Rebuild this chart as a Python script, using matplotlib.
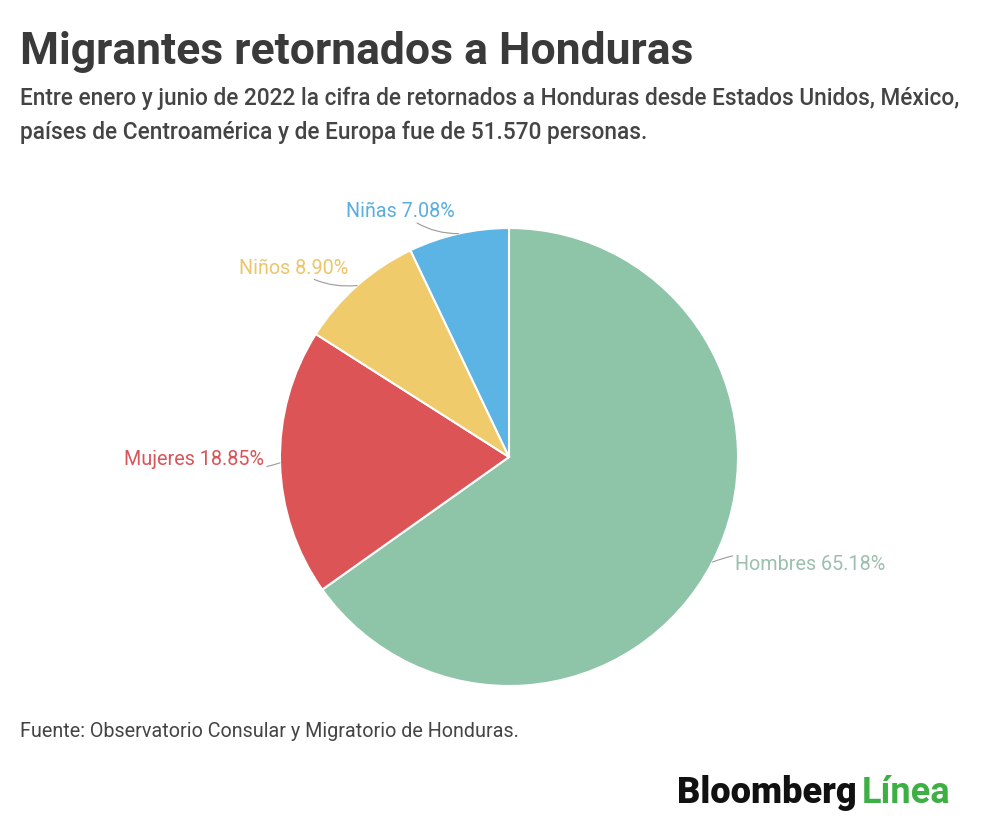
import numpy as np
import matplotlib.pyplot as plt

# Data
categorias = ["Hombres", "Mujeres", "Niños", "Niñas"]
porcentajes = [65.18, 18.85, 8.90, 7.08]
colores = ["#8ec4a8", "#dd5456", "#efcb6b", "#5cb4e4"]
colores_texto = ["#9cbfae", "#d9545a", "#ebc66a", "#5aaede"]

plt.rcParams['font.family'] = ['Roboto', 'DejaVu Sans']

fig = plt.figure(figsize=(10, 8.37), dpi=100)
fig.patch.set_facecolor("white")

# Title / subtitle
fig.text(0.02, 0.923, "Migrantes retornados a Honduras", fontsize=32, fontweight="bold",
         color="#3a3a3a", ha="left", va="baseline")
fig.text(0.02, 0.875, "Entre enero y junio de 2022 la cifra de retornados a Honduras desde Estados Unidos, México,",
         fontsize=16.3, fontweight="medium", color="#444444", ha="left", va="baseline")
fig.text(0.02, 0.834, "países de Centroamérica y de Europa fue de 51.570 personas.",
         fontsize=16.3, fontweight="medium", color="#444444", ha="left", va="baseline")

# Pie
ax = fig.add_axes([0.28, 0.1792, 0.458, 0.5472])
wedges, _ = ax.pie(porcentajes, colors=colores, startangle=90, counterclock=False,
                   radius=1, wedgeprops=dict(edgecolor="white", linewidth=1.5))
ax.set_xlim(-1, 1)
ax.set_ylim(-1, 1)
ax.set_aspect("equal")
ax.axis("off")

# Labels with leader lines
offsets = {"Hombres": (0.10, -0.005), "Mujeres": (-0.07, 0.02),
           "Niños": (-0.04, 0.08), "Niñas": (-0.015, 0.10)}
for w, cat, pct, tc in zip(wedges, categorias, porcentajes, colores_texto):
    ang = np.deg2rad((w.theta1 + w.theta2) / 2)
    x, y = np.cos(ang), np.sin(ang)
    dx, dy = offsets[cat]
    ha = "left" if x > 0 else "right"
    ax.annotate(f"{cat} {pct:.2f}%", xy=(x, y), xytext=(x + dx, y + dy),
                ha=ha, va="center", fontsize=14.2, color=tc, annotation_clip=False,
                arrowprops=dict(arrowstyle="-", color="#9a9a9a", lw=0.8,
                                shrinkA=0, shrinkB=0,
                                connectionstyle="arc3,rad=0.2"))

# Source
fig.text(0.02, 0.126, "Fuente: Observatorio Consular y Migratorio de Honduras.",
         fontsize=14.25, color="#444444", ha="left", va="center")

# Logo
fig.text(0.857, 0.052, "Bloomberg", fontsize=26, fontweight="black", color="#111111",
         ha="right", va="center")
fig.text(0.862, 0.052, "Línea", fontsize=26, fontweight="bold", color="#3cb043",
         ha="left", va="center")

fig.savefig("out.png", dpi=100, facecolor="white")
